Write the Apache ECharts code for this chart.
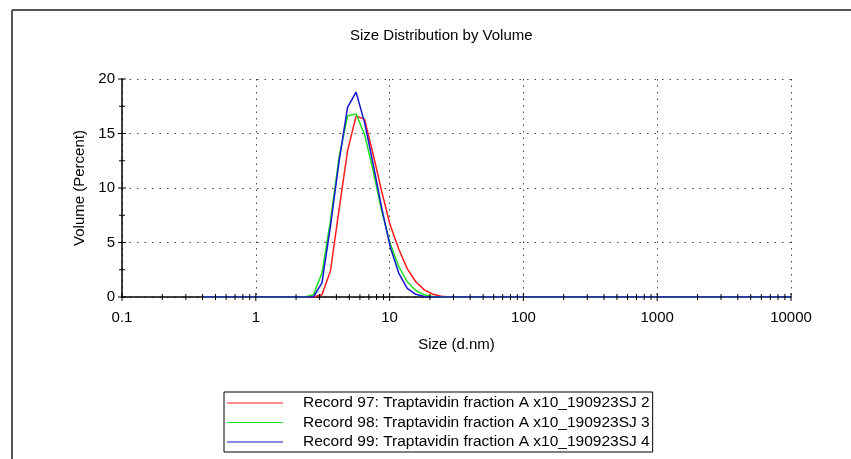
<!DOCTYPE html>
<html><head><meta charset="utf-8">
<script src="https://cdn.jsdelivr.net/npm/echarts@6/dist/echarts.min.js"></script>
<style>html,body{margin:0;padding:0;background:#fff}#c{width:851px;height:459px}</style>
</head><body><div id="c"></div>
<script>
// Size bins (d.nm)
const sizes = [
  0.4, 0.4632, 0.5365, 0.6213, 0.7195, 0.8332, 0.9649, 1.117, 1.294, 1.499,
  1.736, 2.010, 2.328, 2.696, 3.122, 3.615, 4.187, 4.849, 5.615, 6.503,
  7.531, 8.721, 10.10, 11.70, 13.54, 15.69, 18.17, 21.04, 24.36, 28.21,
  32.67, 37.84, 43.82, 50.75, 58.77, 68.06, 78.82, 91.28, 105.7, 122.4,
  141.8, 164.2, 190.1, 220.2, 255.0, 295.3, 342.0, 396.1, 458.7, 531.2,
  615.1, 712.4, 825.0, 955.4, 1106, 1281, 1484, 1718, 1990, 2305,
  2669, 3091, 3580, 4145, 4801, 5560, 6439, 7456, 8635, 10000
];
const record97 = [
  0,0,0,0,0,0,0,0,0,0,
  0,0,0,0,0.2,2.4,8.0,13.4,16.6,16.3,
  13.1,9.7,6.6,4.4,2.6,1.4,0.65,0.25,0.06,0,
  0,0,0,0,0,0,0,0,0,0,
  0,0,0,0,0,0,0,0,0,0,
  0,0,0,0,0,0,0,0,0,0,
  0,0,0,0,0,0,0,0,0,0
];
const record98 = [
  0,0,0,0,0,0,0,0,0,0,
  0,0,0,0.2,2.2,7.0,12.8,16.6,16.8,14.9,
  11.6,7.9,4.9,2.8,1.4,0.6,0.2,0.05,0,0,
  0,0,0,0,0,0,0,0,0,0,
  0,0,0,0,0,0,0,0,0,0,
  0,0,0,0,0,0,0,0,0,0,
  0,0,0,0,0,0,0,0,0,0
];
const record99 = [
  0,0,0,0,0,0,0,0,0,0,
  0,0,0,0,1.3,6.5,12.4,17.4,18.8,16.0,
  12.2,8.2,4.6,2.2,0.8,0.25,0.05,0,0,0,
  0,0,0,0,0,0,0,0,0,0,
  0,0,0,0,0,0,0,0,0,0,
  0,0,0,0,0,0,0,0,0,0,
  0,0,0,0,0,0,0,0,0,0
];
const seriesNames = [
  'Record 97: Traptavidin fraction A x10_190923SJ 2',
  'Record 98: Traptavidin fraction A x10_190923SJ 3',
  'Record 99: Traptavidin fraction A x10_190923SJ 4'
];
const seriesColors = ['#ff1a1a', '#1de01d', '#1515d0'];
const xMajorTicks = [0.1, 1, 10, 100, 1000, 10000];
const xMinorTicks = [
  0.2,0.3,0.4,0.5,0.6,0.7,0.8,0.9,
  2,3,4,5,6,7,8,9,
  20,30,40,50,60,70,80,90,
  200,300,400,500,600,700,800,900,
  2000,3000,4000,5000,6000,7000,8000,9000
];
const yMajorTicks = [0, 5, 10, 15, 20];
const yMinorTicks = [2.5, 7.5, 12.5, 17.5];

const FONT = "'Liberation Sans', Arial, sans-serif";
const chart = echarts.init(document.getElementById('c'), null, {renderer: 'canvas'});

function pairs(vals) { return sizes.map((s, i) => [s, vals[i]]); }

function tickSeries(data, horizontal, half) {
  return {
    type: 'custom', silent: true, clip: false, z: 5,
    renderItem: function (params, api) {
      const p = api.coord([api.value(0), api.value(1)]);
      const shape = horizontal
        ? {x1: p[0] - half, y1: p[1], x2: p[0] + half, y2: p[1]}
        : {x1: p[0], y1: p[1] - half, x2: p[0], y2: p[1] + half};
      return {type: 'line', shape: shape, style: {stroke: '#000', lineWidth: 1}};
    },
    data: data
  };
}

const LINE_ICON = 'path://M0,0 H40 V0.6 H0 Z';

chart.setOption({
  animation: false,
  backgroundColor: '#fff',
  textStyle: {fontFamily: FONT},
  title: {
    text: 'Size Distribution by Volume',
    left: 345, top: 23,
    textStyle: {fontFamily: FONT, fontSize: 15, fontWeight: 'normal', color: '#000'}
  },
  grid: {left: 122, right: 60, top: 79, bottom: 162, containLabel: false},
  xAxis: {
    type: 'log', logBase: 10, min: 0.1, max: 10000,
    name: 'Size (d.nm)', nameLocation: 'middle', nameGap: 40,
    nameTextStyle: {fontFamily: FONT, fontSize: 15, color: '#000'},
    axisLine: {show: true, onZero: true, lineStyle: {color: '#000', width: 1.5}},
    axisTick: {show: false},
    axisLabel: {fontFamily: FONT, fontSize: 15, color: '#000', margin: 13,
      formatter: function (v) { return String(v); }},
    splitLine: {show: true, lineStyle: {color: '#444', type: [1.5, 5], width: 1}},
    minorTick: {show: false}, minorSplitLine: {show: false}
  },
  yAxis: {
    type: 'value', min: 0, max: 20, interval: 5,
    name: 'Volume (Percent)', nameLocation: 'middle', nameGap: 31, nameRotate: 90,
    nameTextStyle: {fontFamily: FONT, fontSize: 15, color: '#000'},
    axisLine: {show: true, lineStyle: {color: '#000', width: 1.5}},
    axisTick: {show: false},
    axisLabel: {fontFamily: FONT, fontSize: 15, color: '#000', margin: 7},
    splitLine: {show: true, lineStyle: {color: '#444', type: [1.5, 6], width: 1}}
  },
  legend: {
    orient: 'vertical', left: 224, top: 392,
    padding: [3, 3, 2, 3],
    itemWidth: 56, itemHeight: 14, itemGap: 3.5,
    borderColor: '#000', borderWidth: 1,
    selectedMode: false,
    icon: LINE_ICON,
    lineStyle: {width: 1.5},
    textStyle: {fontFamily: FONT, fontSize: 15.5, color: '#000', padding: [0, 0, 0, 15]},
    data: seriesNames
  },
  graphic: [
    {type: 'line', silent: true, shape: {x1: 12, y1: 10, x2: 851, y2: 10}, style: {stroke: '#555', lineWidth: 2}},
    {type: 'line', silent: true, shape: {x1: 12, y1: 10, x2: 12, y2: 459}, style: {stroke: '#555', lineWidth: 2}}
  ],
  series: [
    {name: seriesNames[0], type: 'line', data: pairs(record97), symbol: 'none', smooth: false,
      lineStyle: {color: seriesColors[0], width: 1.5}, itemStyle: {color: seriesColors[0]}, z: 2},
    {name: seriesNames[1], type: 'line', data: pairs(record98), symbol: 'none', smooth: false,
      lineStyle: {color: seriesColors[1], width: 1.5}, itemStyle: {color: seriesColors[1]}, z: 3},
    {name: seriesNames[2], type: 'line', data: pairs(record99), symbol: 'none', smooth: false,
      lineStyle: {color: seriesColors[2], width: 1.5}, itemStyle: {color: seriesColors[2]}, z: 4},
    tickSeries(xMajorTicks.map(v => [v, 0]), false, 4),
    tickSeries(xMinorTicks.map(v => [v, 0]), false, 3),
    tickSeries(yMajorTicks.map(v => [0.1, v]), true, 4),
    tickSeries(yMinorTicks.map(v => [0.1, v]), true, 3)
  ]
});
</script></body></html>
